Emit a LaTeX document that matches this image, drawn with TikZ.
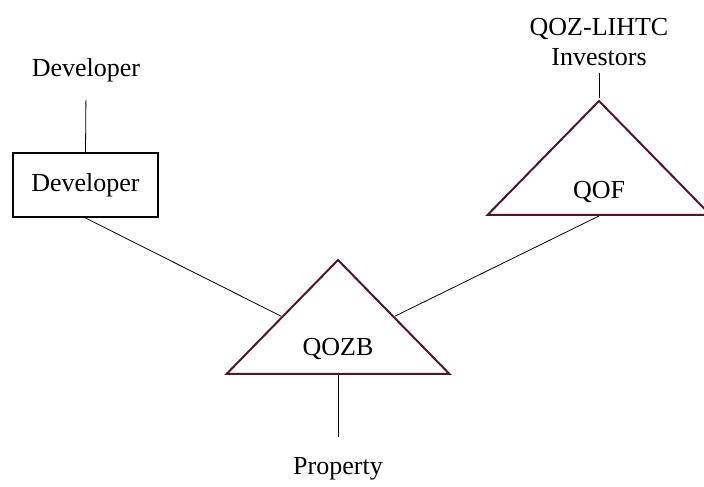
\documentclass[tikz,border=0pt]{standalone}
\usepackage{fontspec}
\setmainfont{Liberation Serif}
\usetikzlibrary{shapes.geometric}
\definecolor{qozline}{RGB}{82,22,44}
\begin{document}
\begin{tikzpicture}[x=0.5pt,y=0.5pt,
  every node/.style={font=\fontsize{13}{15}\selectfont},
  fund/.style={isosceles triangle, isosceles triangle stretches, shape border rotate=90,
    draw=qozline, line width=1pt, minimum width=111.5pt, minimum height=57pt, inner sep=0pt},
  entbox/.style={draw, line width=1pt, minimum width=72.5pt, minimum height=32pt}]
\useasboundingbox (0,0) rectangle (704,486);
\node[fund, anchor=lower side] (qozb) at (338,111){};
\node[anchor=base] (qozbname) at (338,130){QOZB};
\node[fund, anchor=lower side] (qof) at (599,270){};
\node[anchor=base] (qofname) at (599,287){QOF};
\node[entbox] (dev) at (85.5,301){Developer};
\node[] (devtop) at (86,416){Developer};
\node[align=center] (inv) at (599,444){QOZ-LIHTC\\Investors};
\node[] (prop) at (338,17){Property};
\draw[shorten >=5.5pt](dev.north) -- (devtop.south);
\draw[](qof.apex) -- (inv.south);
\draw[shorten >=7pt](qozb.lower side) -- (prop.north);
\draw[](dev.south) -- (qozb.left side);
\draw[](qof.lower side) -- (qozb.right side);

\end{tikzpicture}
\end{document}
